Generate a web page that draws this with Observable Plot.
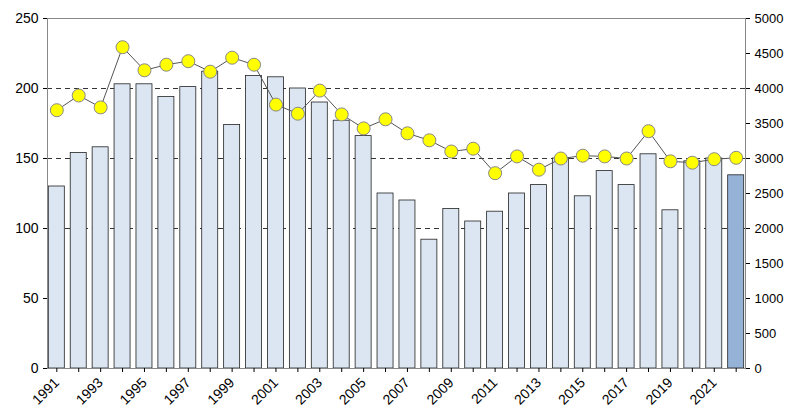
<!DOCTYPE html>
<html><head><meta charset="utf-8">
<script src="https://cdn.jsdelivr.net/npm/d3@7"></script>
<script src="https://cdn.jsdelivr.net/npm/@observablehq/plot@0.6"></script>
<style>body{margin:0;background:#fff}</style>
</head><body><div id="chart"></div>
<script>
const years = d3.range(1991, 2023);
const barValues = [130,154,158,203,203,194,201,212,174,209,208,200,190,177,166,125,120,92,114,105,112,125,131,150,123,141,131,153,113,148,150,138];
const pointValues = [3690,3900,3730,4590,4260,4340,4390,4240,4440,4340,3770,3640,3970,3630,3430,3560,3360,3260,3100,3140,2790,3030,2840,3000,3040,3030,3000,3390,2960,2940,2990,3010];
const leftTicks = [0,50,100,150,200,250];
const rightTicks = [0,500,1000,1500,2000,2500,3000,3500,4000,4500,5000];
const gridLines = [100,150,200];

const bars = years.map((y, i) => ({year: String(y), v: barValues[i], last: i === years.length - 1}));
const pts = years.map((y, i) => ({year: String(y), v: pointValues[i] / 20}));

const plot = Plot.plot({
  width: 787, height: 409,
  marginLeft: 47, marginRight: 42, marginTop: 18, marginBottom: 41,
  style: {fontFamily: "Arial, 'Liberation Sans', sans-serif", fontSize: "13px", color: "#000"},
  x: {type: "band", domain: years.map(String), round: false, paddingInner: 0.27, paddingOuter: 0.06, label: null},
  y: {domain: [0, 250], label: null},
  marks: [
    Plot.ruleY(gridLines, {stroke: "#000", strokeDasharray: "5,4", strokeWidth: 0.8}),
    Plot.barY(bars, {x: "year", y: "v", fill: d => d.last ? "#95b3d7" : "#dce6f2", stroke: "#222", strokeWidth: 0.8}),
    Plot.line(pts, {x: "year", y: "v", stroke: "#555", strokeWidth: 1}),
    Plot.dot(pts, {x: "year", y: "v", r: 6.5, fill: "#ffff00", stroke: "#888", strokeWidth: 1}),
    Plot.frame({stroke: "#888"}),
    Plot.axisY(leftTicks, {anchor: "left", tickSize: 4, label: null, fontSize: 14}),
    Plot.axisY(rightTicks.map(d => d / 20), {anchor: "right", tickSize: 4, label: null, tickFormat: d => String(d * 20)}),
    Plot.axisX({tickSize: 4, tickRotate: -45, fontSize: 14, tickFormat: d => (+d % 2 === 1 ? d : ""), label: null})
  ]
});
document.getElementById("chart").appendChild(plot);
</script></body></html>
